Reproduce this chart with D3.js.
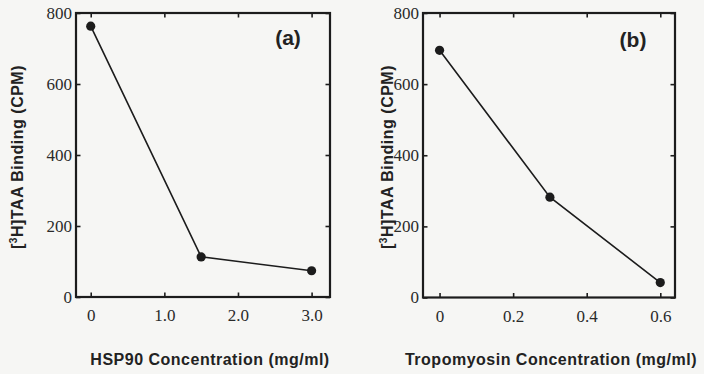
<!DOCTYPE html>
<html>
<head>
<meta charset="utf-8">
<script src="https://cdn.jsdelivr.net/npm/d3@7/dist/d3.min.js"></script>
<style>
  html, body { margin: 0; padding: 0; background: #f6f6f4; }
  svg { display: block; }
  .title { font-family: "Liberation Sans", Arial, sans-serif; font-weight: bold; fill: #222; }
  svg g.axis text { font-family: "Liberation Serif", "DejaVu Serif", serif !important; font-size: 17px !important; }
</style>
</head>
<body>
<svg id="chart" width="704" height="374"></svg>
<script>
// Panel (a): HSP90
const hspConc = [0, 1.5, 3.0];
const hspBinding = [763, 113, 74];
const hspTicks = [0, 1, 2, 3];
const hspTickLabels = ["0", "1.0", "2.0", "3.0"];

// Panel (b): tropomyosin
const tropConc = [0, 0.3, 0.6];
const tropBinding = [695, 282, 42];
const tropTicks = [0, 0.2, 0.4, 0.6];
const tropTickLabels = ["0", "0.2", "0.4", "0.6"];

const yTicks = [0, 200, 400, 600, 800];
const yTickLabels = ["0", "200", "400", "600", "800"];

const svg = d3.select("#chart");
const ink = "#1c1c1c";
const serif = "Liberation Serif, DejaVu Serif, serif";

function panel(cfg) {
  const x = d3.scaleLinear().domain(cfg.xDomain).range([cfg.left, cfg.right]);
  const y = d3.scaleLinear().domain([0, 800]).range([cfg.bottom, cfg.top]);
  const g = svg.append("g");

  // inward tick marks on all four sides
  const axes = [
    { gen: d3.axisBottom(x).tickValues(cfg.xTicks).tickFormat((d, i) => cfg.xLabels[i]), tr: `translate(0,${cfg.bottom})`, pad: 12 },
    { gen: d3.axisTop(x).tickValues(cfg.xTicks).tickFormat(""), tr: `translate(0,${cfg.top})`, pad: 0 },
    { gen: d3.axisLeft(y).tickValues(yTicks).tickFormat((d, i) => yTickLabels[i]), tr: `translate(${cfg.left},0)`, pad: 4 },
    { gen: d3.axisRight(y).tickValues(yTicks).tickFormat(""), tr: `translate(${cfg.right},0)`, pad: 0 }
  ];
  axes.forEach(a => {
    const ag = g.append("g").attr("class", "axis").attr("transform", a.tr)
      .call(a.gen.tickSizeInner(-4.5).tickSizeOuter(0).tickPadding(a.pad));
    ag.attr("font-family", serif).attr("font-size", 17);
    ag.select(".domain").remove();
    ag.selectAll(".tick line").attr("stroke", ink).attr("stroke-width", 1.6);
    ag.selectAll(".tick text")
      .attr("font-family", serif)
      .attr("font-size", 17)
      .attr("fill", "#2a2a2a");
  });

  // plot frame
  g.append("rect")
    .attr("x", cfg.left).attr("y", cfg.top)
    .attr("width", cfg.right - cfg.left).attr("height", cfg.bottom - cfg.top)
    .attr("fill", "none").attr("stroke", ink).attr("stroke-width", 2.2);

  const pts = cfg.xs.map((v, i) => [v, cfg.ys[i]]);
  g.append("path")
    .datum(pts)
    .attr("fill", "none").attr("stroke", ink).attr("stroke-width", 1.6)
    .attr("d", d3.line().x(d => x(d[0])).y(d => y(d[1])));
  g.selectAll("circle.pt").data(pts).enter().append("circle")
    .attr("class", "pt")
    .attr("cx", d => x(d[0])).attr("cy", d => y(d[1]))
    .attr("r", 4.6).attr("fill", ink);

  // panel letter
  g.append("text").attr("class", "title")
    .attr("x", cfg.letterX).attr("y", cfg.letterY)
    .attr("text-anchor", "middle").attr("font-size", 21)
    .text(cfg.letter);

  // x-axis title
  g.append("text").attr("class", "title")
    .attr("x", cfg.xTitleX).attr("y", 365)
    .attr("text-anchor", "middle").attr("font-size", 16)
    .attr("letter-spacing", 0.5)
    .text(cfg.xTitle);

  // y-axis title with superscript
  const yt = g.append("text").attr("class", "title")
    .attr("transform", `translate(${cfg.yTitleX},157) rotate(-90)`)
    .attr("text-anchor", "middle").attr("font-size", 16)
    .attr("letter-spacing", 0.5);
  yt.append("tspan").text("[");
  yt.append("tspan").attr("font-size", 10).attr("dy", -6).text("3");
  yt.append("tspan").attr("dy", 6).text("H]TAA Binding (CPM)");
}

panel({
  xDomain: [-0.2, 3.25], left: 76, right: 330, top: 13, bottom: 297,
  xTicks: hspTicks, xLabels: hspTickLabels, xs: hspConc, ys: hspBinding,
  letter: "(a)", letterX: 288, letterY: 45,
  xTitle: "HSP90 Concentration (mg/ml)", xTitleX: 210, yTitleX: 23
});

panel({
  xDomain: [-0.045, 0.64], left: 423, right: 675, top: 13, bottom: 297.5,
  xTicks: tropTicks, xLabels: tropTickLabels, xs: tropConc, ys: tropBinding,
  letter: "(b)", letterX: 633, letterY: 47,
  xTitle: "Tropomyosin Concentration (mg/ml)", xTitleX: 551, yTitleX: 393
});
</script>
</body>
</html>
